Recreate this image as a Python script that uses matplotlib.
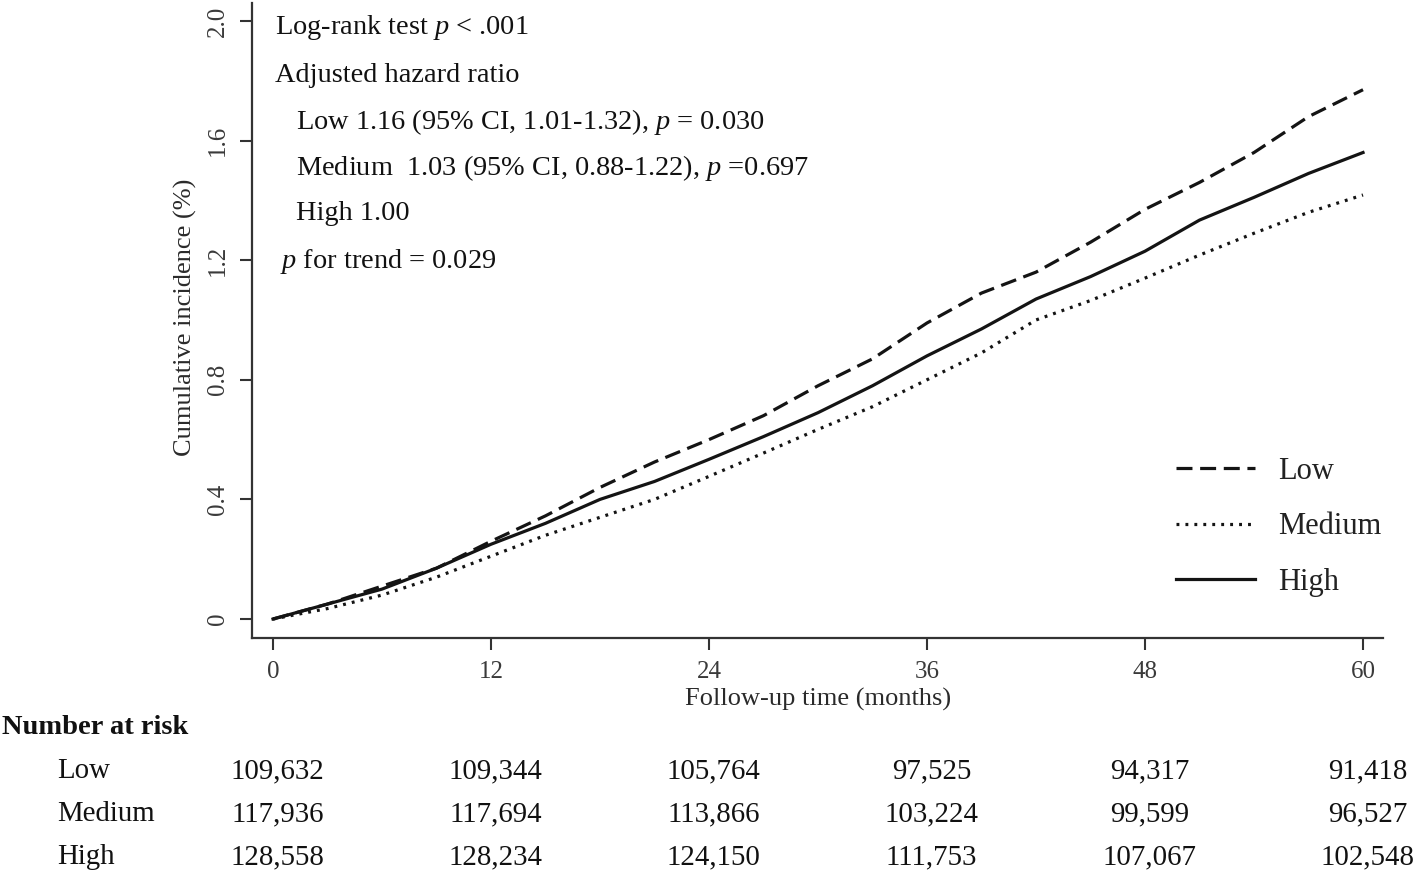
import matplotlib
matplotlib.use("Agg")
import matplotlib.pyplot as plt
import matplotlib.transforms as mtransforms

plt.rcParams['font.family'] = ['Liberation Serif', 'DejaVu Serif']
plt.rcParams['mathtext.fontset'] = 'custom'
plt.rcParams['mathtext.rm'] = 'Liberation Serif'
plt.rcParams['mathtext.it'] = 'Liberation Serif:italic'

# ---------------- data ----------------
months = [0, 3, 6, 9, 12, 15, 18, 21, 24, 27, 30, 33, 36, 39, 42, 45, 48, 51, 54, 57, 60]
low = [0, 0.05, 0.11, 0.17, 0.26, 0.345, 0.44, 0.525, 0.60, 0.68, 0.78, 0.87, 0.99,
       1.09, 1.16, 1.26, 1.37, 1.46, 1.56, 1.68, 1.77]
medium = [0, 0.035, 0.08, 0.14, 0.21, 0.28, 0.34, 0.40, 0.477, 0.555, 0.634, 0.71, 0.80,
          0.89, 1.00, 1.065, 1.14, 1.217, 1.29, 1.36, 1.418]
high = [0, 0.05, 0.10, 0.17, 0.25, 0.32, 0.40, 0.46, 0.534, 0.61, 0.69, 0.78, 0.88,
        0.97, 1.07, 1.145, 1.23, 1.334, 1.41, 1.49, 1.56]

groups = ['Low', 'Medium', 'High']
x_ticks = [0, 12, 24, 36, 48, 60]
y_ticks = [0, 0.4, 0.8, 1.2, 1.6, 2.0]
y_tick_labels = ['0', '0.4', '0.8', '1.2', '1.6', '2.0']
risk_low = ['109,632', '109,344', '105,764', '97,525', '94,317', '91,418']
risk_medium = ['117,936', '117,694', '113,866', '103,224', '99,599', '96,527']
risk_high = ['128,558', '128,234', '124,150', '111,753', '107,067', '102,548']

annot_lines = [
    'Log-rank test $p$ < .001',
    'Adjusted hazard ratio',
    'Low 1.16 (95% CI, 1.01-1.32), $p$ = 0.030',
    'Medium  1.03 (95% CI, 0.88-1.22), $p$ =0.697',
    'High 1.00',
    '$p$ for trend = 0.029',
]

# ---------------- figure ----------------
W, H = 1418, 876
fig = plt.figure(figsize=(W / 100, H / 100), dpi=100)
ax = fig.add_axes([252 / W, 1 - 638 / H, (1383 - 252) / W, (638 - 3) / H])

ink = '#141414'
lw = 2.3
ax.plot(months, low, color=ink, lw=lw, linestyle=(0, (5.0, 2.4)), label='Low')
ax.plot(months, medium, color=ink, lw=lw, linestyle=(0, (0.9, 1.9)), label='Medium')
ax.plot(months, high, color=ink, lw=lw, linestyle='-', label='High')

ax.set_xlim(-1.156, 61.1)
ax.set_ylim(-0.0635, 2.06)
for s in ['top', 'right']:
    ax.spines[s].set_visible(False)
for s in ['left', 'bottom']:
    ax.spines[s].set_linewidth(1.6)
    ax.spines[s].set_color('#333333')

ax.set_xticks(x_ticks)
ax.set_xticklabels([str(v) for v in x_ticks])
ax.set_yticks(y_ticks)
ax.set_yticklabels(y_tick_labels, rotation=90, va='center')
ax.tick_params(axis='both', direction='out', length=8.6, width=1.5, color='#333333',
               labelsize=18, labelcolor='#3a3a3a', pad=8)

ax.set_xlabel('Follow-up time (months)', fontsize=19, color='#2a2a2a', labelpad=0)
ax.set_ylabel('Cumulative incidence (%)', fontsize=19, color='#2a2a2a', labelpad=4)
ax.xaxis.set_label_coords((818 - 252) / (1383 - 252), -(688 - 638) / (638 - 3))
ax.yaxis.set_label_coords(-(252 - 197) / (1383 - 252), (638 - 317) / (638 - 3))

leg = ax.legend(loc='upper left', bbox_to_anchor=(1176 / W, 1 - 457 / H),
                bbox_transform=fig.transFigure, frameon=False, fontsize=22,
                handlelength=2.6, handletextpad=0.75, labelspacing=0.86,
                borderpad=0, borderaxespad=0)
for t in leg.get_texts():
    t.set_color('#222222')

# annotations
ann_x = [275, 275, 296, 296, 296, 280]
ann_y = [28, 75, 122, 168, 214, 262]
for txt, xx, yy in zip(annot_lines, ann_x, ann_y):
    fig.text(xx / W, 1 - yy / H, txt, fontsize=20.4, va='center', ha='left', color='#111111')

# risk table
fig.text(2 / W, 1 - 728 / H, 'Number at risk', fontsize=20.5, fontweight='bold',
         va='center', ha='left', color='#111111')
trans = mtransforms.blended_transform_factory(ax.transData, fig.transFigure)
row_y = [771, 814, 857]
for name, vals, yy in zip(groups, [risk_low, risk_medium, risk_high], row_y):
    fig.text(57 / W, 1 - yy / H, name, fontsize=20.8, va='center', ha='left', color='#111111')
    for xv, v in zip(x_ticks, vals):
        ax.text(xv + 0.25, 1 - yy / H, v, transform=trans, fontsize=20.8, va='center',
                ha='center', color='#111111', clip_on=False)

fig.savefig('out.png', dpi=100, facecolor='white')
